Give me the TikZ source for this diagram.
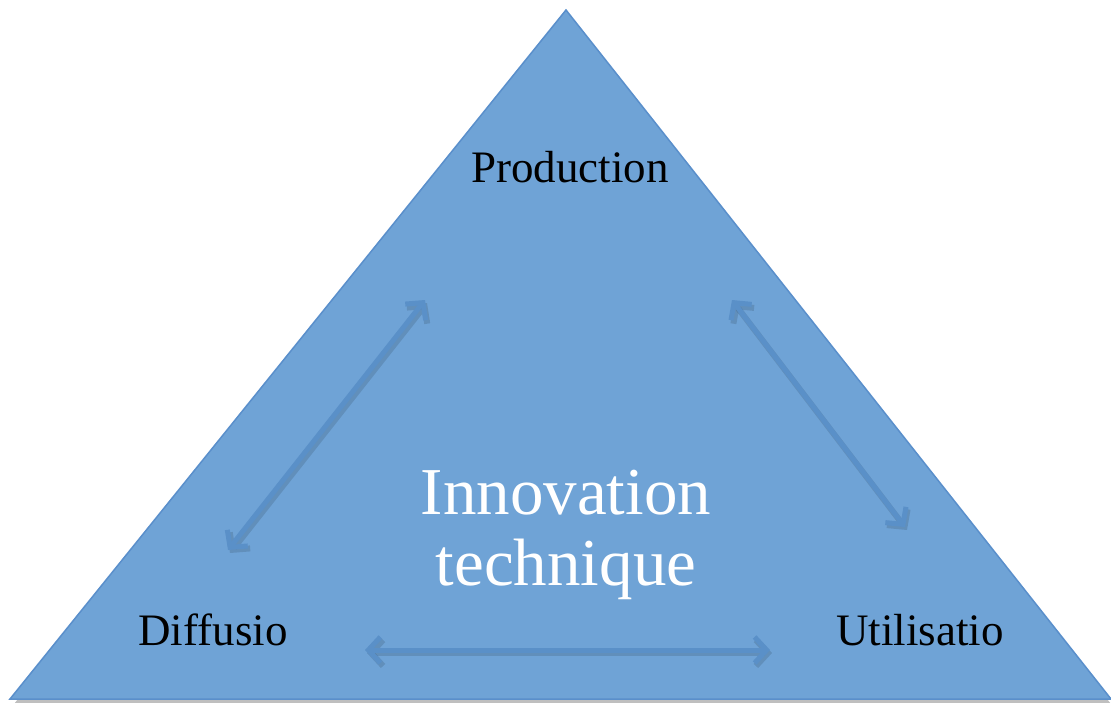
\documentclass[tikz,border=0pt]{standalone}
\usepackage{fontspec}
\setmainfont{Liberation Serif}
\usetikzlibrary{arrows.meta}
\definecolor{trifill}{HTML}{6FA3D6}
\definecolor{triedge}{HTML}{5A8FCB}
\definecolor{arrowblue}{HTML}{5A90C8}
\begin{document}
\begin{tikzpicture}[x=1pt,y=-1pt,
	  link/.style={arrowblue, line width=5pt, {Straight Barb[length=12pt,width=26pt,line width=5pt]}-{Straight Barb[length=12pt,width=26pt,line width=5pt]}},
	  linkshadow/.style={black, opacity=0.12, line width=6pt, {Straight Barb[length=12pt,width=26pt,line width=6pt]}-{Straight Barb[length=12pt,width=26pt,line width=6pt]}},
	  corner/.style={font=\fontsize{45}{48}\selectfont, text=black}]
	  \useasboundingbox (0,0) rectangle (1111,702);

	  \fill [black, opacity=0.25] (566,14)--(1111,704)--(14,704)--cycle;
	  \draw [fill=trifill, draw=triedge, line width=1.5pt] (566,10)--(1111,699)--(10,699)--cycle;

	  \node [corner, anchor=base] (prod) at (570,182) {Production};
	  \node [corner, anchor=base] (diff) at (213,645) {Diffusio};
	  \node [corner, anchor=base] (util) at (920,645) {Utilisatio};
	  \node [white, align=center, font=\fontsize{67}{71}\selectfont] (innov) at (566,535) {Innovation\\technique};

	  \coordinate (dp) at (228,550);
	  \coordinate (pd) at (425,300);
	  \coordinate (pu) at (732,300);
	  \coordinate (up) at (905,527);
	  \coordinate (du) at (365,650);
	  \coordinate (ud) at (770,650);

	  \draw [linkshadow, transform canvas={xshift=2pt, yshift=-3pt}] (dp)--(pd);
	  \draw [linkshadow, transform canvas={xshift=2pt, yshift=-3pt}] (pu)--(up);
	  \draw [linkshadow, transform canvas={xshift=2pt, yshift=-3pt}] (du)--(ud);

	  \draw [link] (dp)--(pd);
	  \draw [link] (pu)--(up);
	  \draw [link] (du)--(ud);
	\end{tikzpicture}
\end{document}
